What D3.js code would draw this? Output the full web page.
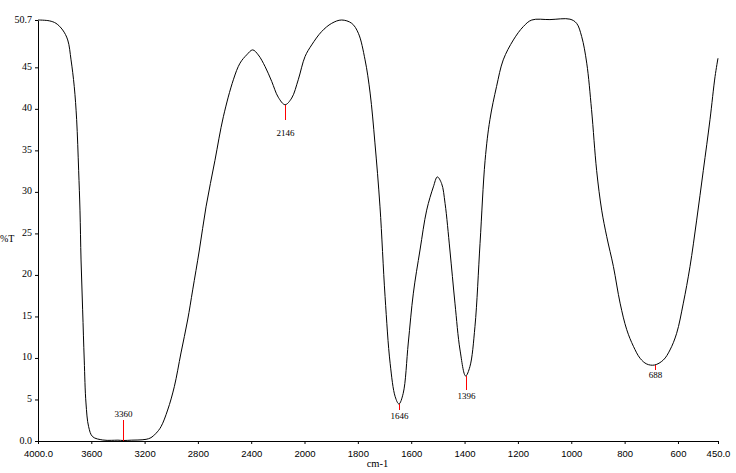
<!DOCTYPE html>
<html>
<head>
<meta charset="utf-8">
<script src="https://cdn.jsdelivr.net/npm/d3@7"></script>
<style>
  html, body { margin: 0; padding: 0; background: #fff; }
  svg { display: block; }
</style>
</head>
<body>
<svg id="chart" width="736" height="473"></svg>
<script>
const wavenumbers = [4000,3915,3865,3815,3777,3752,3728,3710,3695,3685,3677,3665,3653,3640,3620,3590,3514,3450,3400,3360,3300,3250,3189,3152,3114,3077,3027,2977,2927,2877,2839,2789,2739,2672,2609,2534,2484,2434,2389,2347,2296,2246,2197,2146,2096,2047,1998,1973,1936,1898,1861,1823,1798,1773,1754,1736,1717,1698,1679,1660,1646,1630,1611,1592,1567,1542,1517,1502,1486,1473,1455,1436,1417,1396,1380,1361,1342,1323,1305,1280,1255,1217,1180,1148,1080,1005,980,961,942,924,905,886,867,842,817,792,767,742,717,688,655,630,605,580,555,530,505,480,461,450];
const transmittance = [50.7,50.6,50.3,49.5,48.3,45.9,42.7,38.7,32.6,27.8,21.8,15.8,9.75,4.58,1.72,0.52,0.12,0.08,0.1,0.06,0.1,0.12,0.2,0.4,0.93,1.72,3.73,6.54,10.6,14.57,18.2,23.0,28.2,33.8,39.05,43.5,45.5,46.5,47.1,46.5,45.1,43.3,41.4,40.5,41.3,43.5,46.3,47.7,49.3,50.3,50.7,50.3,49.1,45.9,41.9,35.9,28.2,17.4,9.36,5.33,4.46,5.74,11.8,17.8,23.0,27.8,30.6,31.8,31.0,28.6,23.0,16.6,10.96,7.83,8.95,13.8,23.8,33.8,38.7,42.7,45.9,48.3,49.9,50.7,50.75,50.8,50.3,48.7,45.5,39.9,32.6,27.8,24.6,21.0,16.6,13.4,11.4,9.96,9.27,9.15,9.75,10.96,12.97,16.6,21.0,26.6,32.6,38.7,43.9,46.1];

const xTickValues = [4000,3600,3200,2800,2400,2000,1800,1600,1400,1200,1000,800,600,450];
const xTickLabels = ["4000.0","3600","3200","2800","2400","2000","1800","1600","1400","1200","1000","800","600","450.0"];
const yTickValues = [0,5,10,15,20,25,30,35,40,45,50.7];
const yTickLabels = ["0.0","5","10","15","20","25","30","35","40","45","50.7"];

const peakWavenumbers = [3360,2146,1646,1396,688];
const peakValues = [0,40.5,4.46,7.83,9.15];
const peakLabels = ["3360","2146","1646","1396","688"];

const xTitle = "cm-1";
const yTitle = "%T";

// style: marker line length (px) and direction (+1 down from curve, -1 up from axis)
const markerStyle = [
  {len: 21, dir: -1, gap: 3},
  {len: 15, dir: 1, gap: 16},
  {len: 6, dir: 1, gap: 9},
  {len: 14, dir: 1, gap: 9},
  {len: 5, dir: 1, gap: 8}
];

const svg = d3.select("#chart");
svg.append("rect").attr("width", 736).attr("height", 473).attr("fill", "#fff");

const x = d3.scaleLinear().domain([4000, 2000, 450]).range([38, 304.5, 718]);
const y = d3.scaleLinear().domain([0, 50.7]).range([441, 20]);

// X axis
const xAxis = d3.axisBottom(x)
  .tickValues(xTickValues)
  .tickFormat((d, i) => xTickLabels[i])
  .tickSize(3)
  .tickSizeOuter(0);
const gx = svg.append("g").attr("transform", "translate(0,441)").call(xAxis);
gx.select(".domain").attr("stroke", "#000").attr("d", "M38.5,0.5H718.5");
gx.selectAll(".tick line").attr("stroke", "#000");
gx.selectAll(".tick text")
  .attr("fill", "#000")
  .attr("y", 9)
  .attr("font-family", "'Liberation Sans', Arial, sans-serif")
  .attr("font-size", "9.5px");

// Y axis
const yAxis = d3.axisLeft(y)
  .tickValues(yTickValues)
  .tickFormat((d, i) => yTickLabels[i])
  .tickSize(3)
  .tickSizeOuter(0);
const gy = svg.append("g").attr("transform", "translate(38,0)").call(yAxis);
gy.select(".domain").attr("stroke", "#000");
gy.selectAll(".tick line").attr("stroke", "#000");
gy.selectAll(".tick text")
  .attr("fill", "#000")
  .attr("x", -6)
  .attr("dy", "0.2em")
  .attr("font-family", "'Liberation Serif', 'Times New Roman', serif")
  .attr("font-size", "10px");

// Axis titles
svg.append("text")
  .attr("x", 377.5).attr("y", 467)
  .attr("text-anchor", "middle")
  .attr("font-family", "'Liberation Serif', 'Times New Roman', serif")
  .attr("font-size", "10.5px")
  .attr("fill", "#000")
  .text(xTitle);
svg.append("text")
  .attr("x", 0).attr("y", 242)
  .attr("font-family", "'Liberation Serif', 'Times New Roman', serif")
  .attr("font-size", "10px")
  .attr("fill", "#000")
  .text(yTitle);

// Spectrum line
const data = wavenumbers.map((w, i) => [w, transmittance[i]]);
const line = d3.line()
  .x(d => x(d[0]))
  .y(d => Math.min(y(d[1]), 441))
  .curve(d3.curveCatmullRom.alpha(0.5));
svg.append("path")
  .datum(data)
  .attr("fill", "none")
  .attr("stroke", "#000")
  .attr("stroke-width", 1)
  .attr("d", line);

// Peak markers
peakWavenumbers.forEach((w, i) => {
  const st = markerStyle[i];
  const px = Math.round(x(w)) + 0.5;
  const py = Math.round(y(peakValues[i]));
  const y2 = py + st.dir * st.len;
  svg.append("line")
    .attr("x1", px).attr("x2", px)
    .attr("y1", py).attr("y2", y2)
    .attr("stroke", "#ff0000")
    .attr("stroke-width", 1)
    .attr("shape-rendering", "crispEdges");
  svg.append("text")
    .attr("x", px)
    .attr("y", st.dir > 0 ? y2 + st.gap : y2 - st.gap)
    .attr("text-anchor", "middle")
    .attr("font-family", "'Liberation Serif', 'Times New Roman', serif")
    .attr("font-size", "9px")
    .attr("fill", "#000")
    .text(peakLabels[i]);
});
</script>
</body>
</html>
